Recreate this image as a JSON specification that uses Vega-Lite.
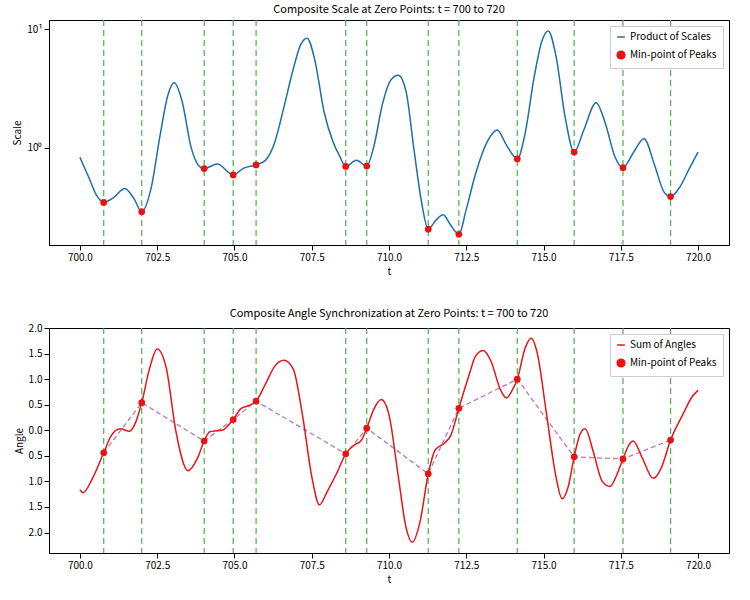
{
"$schema":"https://vega.github.io/schema/vega-lite/v6.json",
"config":{"font":"Noto Sans CJK JP","view":{"stroke":"black"},"axis":{"grid":false,"labelFontSize":10,"titleFontSize":10,"titleFontWeight":"normal","domainColor":"black","tickColor":"black","labelColor":"black","titlePadding":4},"title":{"fontSize":11,"fontWeight":"normal","offset":4},"legend":{"orient":"top-right","offset":6,"fillColor":"white","strokeColor":"#ccc","padding":6,"labelFontSize":10,"title":null,"symbolSize":60,"rowPadding":6}},
"spacing":30,
"padding":{"left":12,"top":3,"right":10,"bottom":3},
"datasets":{
"scale":[{"t":700.0,"v":0.827},{"t":700.3,"v":0.55},{"t":700.55,"v":0.39},{"t":700.77,"v":0.344},{"t":701.1,"v":0.38},{"t":701.45,"v":0.451},{"t":701.75,"v":0.37},{"t":702.0,"v":0.287},{"t":702.3,"v":0.45},{"t":702.6,"v":1.3},{"t":702.85,"v":2.8},{"t":703.05,"v":3.53},{"t":703.3,"v":2.5},{"t":703.6,"v":1.0},{"t":703.85,"v":0.7},{"t":704.02,"v":0.664},{"t":704.45,"v":0.727},{"t":704.96,"v":0.587},{"t":705.3,"v":0.67},{"t":705.7,"v":0.714},{"t":706.0,"v":0.78},{"t":706.3,"v":1.1},{"t":706.6,"v":2.2},{"t":706.9,"v":4.6},{"t":707.15,"v":7.5},{"t":707.35,"v":8.43},{"t":707.6,"v":5.5},{"t":707.9,"v":2.0},{"t":708.2,"v":1.1},{"t":708.4,"v":0.85},{"t":708.6,"v":0.693},{"t":708.95,"v":0.78},{"t":709.28,"v":0.697},{"t":709.5,"v":1.0},{"t":709.8,"v":2.4},{"t":710.05,"v":3.7},{"t":710.3,"v":4.09},{"t":710.55,"v":3.0},{"t":710.8,"v":1.0},{"t":711.05,"v":0.35},{"t":711.27,"v":0.204},{"t":711.5,"v":0.24},{"t":711.75,"v":0.27},{"t":712.0,"v":0.22},{"t":712.26,"v":0.185},{"t":712.5,"v":0.3},{"t":712.8,"v":0.6},{"t":713.2,"v":1.15},{"t":713.5,"v":1.41},{"t":713.8,"v":1.05},{"t":714.15,"v":0.802},{"t":714.4,"v":1.3},{"t":714.7,"v":4.0},{"t":714.95,"v":8.0},{"t":715.15,"v":9.7},{"t":715.4,"v":6.0},{"t":715.7,"v":1.8},{"t":715.99,"v":0.918},{"t":716.3,"v":1.4},{"t":716.7,"v":2.4},{"t":717.0,"v":1.6},{"t":717.3,"v":0.85},{"t":717.57,"v":0.676},{"t":717.9,"v":0.9},{"t":718.25,"v":1.19},{"t":718.6,"v":0.7},{"t":718.9,"v":0.42},{"t":719.11,"v":0.385},{"t":719.4,"v":0.46},{"t":719.7,"v":0.65},{"t":720.0,"v":0.918}],
"angle":[{"t":700.0,"a":-1.16},{"t":700.1,"a":-1.22},{"t":700.4,"a":-0.95},{"t":700.77,"a":-0.44},{"t":701.0,"a":-0.12},{"t":701.3,"a":0.03},{"t":701.6,"a":-0.02},{"t":701.8,"a":0.15},{"t":702.0,"a":0.54},{"t":702.25,"a":1.2},{"t":702.5,"a":1.59},{"t":702.8,"a":1.2},{"t":703.1,"a":0.0},{"t":703.5,"a":-0.79},{"t":703.8,"a":-0.55},{"t":704.02,"a":-0.21},{"t":704.2,"a":-0.03},{"t":704.4,"a":-0.01},{"t":704.6,"a":0.0},{"t":704.96,"a":0.21},{"t":705.2,"a":0.42},{"t":705.45,"a":0.48},{"t":705.7,"a":0.57},{"t":706.0,"a":0.9},{"t":706.3,"a":1.25},{"t":706.6,"a":1.37},{"t":706.9,"a":1.2},{"t":707.2,"a":0.3},{"t":707.5,"a":-0.9},{"t":707.75,"a":-1.46},{"t":708.0,"a":-1.2},{"t":708.3,"a":-0.85},{"t":708.6,"a":-0.46},{"t":708.9,"a":-0.28},{"t":709.1,"a":-0.2},{"t":709.28,"a":0.04},{"t":709.5,"a":0.4},{"t":709.75,"a":0.6},{"t":710.0,"a":0.3},{"t":710.3,"a":-0.9},{"t":710.55,"a":-1.9},{"t":710.75,"a":-2.19},{"t":711.0,"a":-1.8},{"t":711.27,"a":-0.85},{"t":711.5,"a":-0.38},{"t":711.8,"a":-0.25},{"t":712.0,"a":-0.1},{"t":712.26,"a":0.43},{"t":712.6,"a":1.1},{"t":712.8,"a":1.45},{"t":713.05,"a":1.56},{"t":713.3,"a":1.35},{"t":713.6,"a":0.8},{"t":713.8,"a":0.63},{"t":714.0,"a":0.8},{"t":714.15,"a":1.0},{"t":714.4,"a":1.6},{"t":714.6,"a":1.8},{"t":714.8,"a":1.5},{"t":715.1,"a":0.3},{"t":715.4,"a":-0.9},{"t":715.6,"a":-1.34},{"t":715.8,"a":-1.1},{"t":715.99,"a":-0.52},{"t":716.2,"a":-0.05},{"t":716.35,"a":0.03},{"t":716.6,"a":-0.4},{"t":716.9,"a":-1.0},{"t":717.15,"a":-1.1},{"t":717.35,"a":-0.9},{"t":717.57,"a":-0.56},{"t":717.75,"a":-0.3},{"t":717.9,"a":-0.21},{"t":718.2,"a":-0.55},{"t":718.55,"a":-0.94},{"t":718.8,"a":-0.75},{"t":719.11,"a":-0.19},{"t":719.5,"a":0.3},{"t":719.8,"a":0.65},{"t":720.0,"a":0.78}],
"zeros":[{"t":700.77,"v":0.344,"a":-0.44},{"t":702.0,"v":0.287,"a":0.54},{"t":704.02,"v":0.664,"a":-0.21},{"t":704.96,"v":0.587,"a":0.21},{"t":705.7,"v":0.714,"a":0.57},{"t":708.6,"v":0.693,"a":-0.46},{"t":709.28,"v":0.697,"a":0.04},{"t":711.27,"v":0.204,"a":-0.85},{"t":712.26,"v":0.185,"a":0.43},{"t":714.15,"v":0.802,"a":1.0},{"t":715.99,"v":0.918,"a":-0.52},{"t":717.57,"v":0.676,"a":-0.56},{"t":719.11,"v":0.385,"a":-0.19}]
},
"vconcat":[
{"width":680,"height":225,"title":"Composite Scale at Zero Points: t = 700 to 720",
"encoding":{"x":{"field":"t","type":"quantitative","scale":{"domain":[699,721],"nice":false,"zero":false},"axis":{"values":[700,702.5,705,707.5,710,712.5,715,717.5,720],"format":".1f","title":"t","labelOverlap":false}}},
"layer":[
{"data":{"name":"zeros"},"mark":{"type":"rule","color":"#4caf50","strokeDash":[6,4],"strokeWidth":1.2},"encoding":{}},
{"data":{"name":"scale"},"mark":{"type":"line","interpolate":"monotone","strokeWidth":1.5},
"encoding":{
"y":{"field":"v","type":"quantitative","scale":{"type":"log","domain":[0.15,12],"nice":false},"axis":{"values":[1,10],"labelExpr":"datum.value==10?'10¹':'10⁰'","title":"Scale","labelOverlap":false}},
"color":{"datum":"Product of Scales","type":"nominal","scale":{"domain":["Product of Scales","Min-point of Peaks"],"range":["#1f6fa8","#ee1111"]}},
"shape":{"datum":"Product of Scales","type":"nominal","scale":{"domain":["Product of Scales","Min-point of Peaks"],"range":["stroke","circle"]}}}},
{"data":{"name":"zeros"},"mark":{"type":"point","filled":true,"size":45,"opacity":1},
"encoding":{"y":{"field":"v","type":"quantitative"},
"color":{"datum":"Min-point of Peaks","type":"nominal"},"shape":{"datum":"Min-point of Peaks","type":"nominal"}}}
]},
{"width":680,"height":225,"title":"Composite Angle Synchronization at Zero Points: t = 700 to 720",
"encoding":{"x":{"field":"t","type":"quantitative","scale":{"domain":[699,721],"nice":false,"zero":false},"axis":{"values":[700,702.5,705,707.5,710,712.5,715,717.5,720],"format":".1f","title":"t","labelOverlap":false}},
"y":{"field":"a","type":"quantitative","scale":{"domain":[-2.4,2.0],"nice":false,"zero":false},"axis":{"values":[-2,-1.5,-1,-0.5,0,0.5,1,1.5,2],"labelExpr":"format(abs(datum.value),'.1f')","title":"Angle","labelOverlap":false,"tickCount":9}}},
"layer":[
{"data":{"name":"zeros"},"mark":{"type":"rule","color":"#4caf50","strokeDash":[6,4],"strokeWidth":1.2},"encoding":{"y":null}},
{"data":{"name":"zeros"},"mark":{"type":"line","color":"#b57bc0","strokeDash":[5,3],"strokeWidth":1.3},"encoding":{}},
{"data":{"name":"angle"},"mark":{"type":"line","interpolate":"monotone","strokeWidth":1.5},
"encoding":{
"color":{"datum":"Sum of Angles","type":"nominal","scale":{"domain":["Sum of Angles","Min-point of Peaks"],"range":["#e8141a","#ee1111"]}},
"shape":{"datum":"Sum of Angles","type":"nominal","scale":{"domain":["Sum of Angles","Min-point of Peaks"],"range":["stroke","circle"]}}}},
{"data":{"name":"zeros"},"mark":{"type":"point","filled":true,"size":45,"opacity":1},
"encoding":{"color":{"datum":"Min-point of Peaks","type":"nominal"},"shape":{"datum":"Min-point of Peaks","type":"nominal"}}}
]}
],
"resolve":{"scale":{"color":"independent","shape":"independent","x":"independent"},"legend":{"color":"independent","shape":"independent"}}
}
